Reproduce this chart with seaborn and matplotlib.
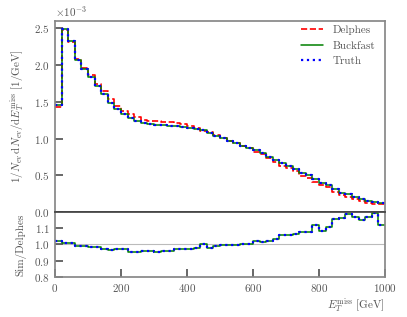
import numpy as np
import pandas as pd
import seaborn as sns
import matplotlib.pyplot as plt

# bin edges in GeV (50 bins of 20 GeV)
edges = np.arange(0, 1001, 20)

# normalised distributions, units of 1e-3 / GeV
truth = [1.46, 2.49, 2.33, 2.07, 1.94, 1.84, 1.72, 1.60, 1.49, 1.40,
         1.333, 1.274, 1.233, 1.206, 1.192, 1.183, 1.178, 1.174, 1.168, 1.16,
         1.145, 1.125, 1.11, 1.07, 1.03, 1.005, 0.97, 0.935, 0.90, 0.874,
         0.842, 0.80, 0.755, 0.71, 0.67, 0.63, 0.592, 0.53, 0.505, 0.45,
         0.40, 0.375, 0.32, 0.265, 0.24, 0.205, 0.175, 0.152, 0.133, 0.12]
buckfast = list(truth)

# Sim/Delphes ratio per bin
ratio = [1.023, 1.008, 1.006, 0.992, 0.990, 0.987, 0.984, 0.969, 0.965, 0.971,
         0.973, 0.955, 0.955, 0.961, 0.961, 0.955, 0.961, 0.959, 0.969, 0.973,
         0.973, 0.979, 1.004, 0.979, 0.988, 0.994, 0.998, 0.996, 1.004, 1.004,
         1.023, 1.016, 1.018, 1.035, 1.060, 1.060, 1.066, 1.078, 1.076, 1.117,
         1.082, 1.109, 1.158, 1.165, 1.188, 1.171, 1.148, 1.168, 1.196, 1.123]

delphes = [t / r for t, r in zip(truth, ratio)]


def steps(vals, scale=1.0):
    # pad last value so the final bin is drawn with steps-post
    v = np.asarray(vals) * scale
    return pd.DataFrame({"x": edges, "y": np.append(v, v[-1])})


sns.set_theme(style="ticks")
grey = "#555555"
plt.rcParams.update({
    "font.family": ["cmr10", "DejaVu Serif"],
    "mathtext.fontset": "cm",
    "axes.formatter.use_mathtext": True,
    "axes.unicode_minus": False,
    "font.size": 8,
    "text.color": grey,
    "axes.labelcolor": grey,
    "xtick.color": grey,
    "ytick.color": grey,
    "axes.edgecolor": "#888888",
    "xtick.direction": "in",
    "ytick.direction": "in",
})

fig = plt.figure(figsize=(4.07, 3.17), dpi=100)
ax = fig.add_axes([0.135, 0.331, 0.811, 0.603])
rax = fig.add_axes([0.135, 0.127, 0.811, 0.204], sharex=ax)

series = [("Delphes", delphes, "red", "--", 1.2),
          ("Buckfast", buckfast, "green", "-", 1.1),
          ("Truth", truth, "blue", ":", 1.6)]
for name, vals, col, ls, lw in series:
    sns.lineplot(data=steps(vals, 1e-3), x="x", y="y", ax=ax, color=col,
                 linestyle=ls, linewidth=lw, drawstyle="steps-post",
                 label=name, estimator=None)

ax.set_xlim(0, 1000)
ax.set_ylim(0, 2.6e-3)
ax.set_yticks([0, 0.5e-3, 1.0e-3, 1.5e-3, 2.0e-3, 2.5e-3])
ax.ticklabel_format(axis="y", style="sci", scilimits=(-3, -3))
ax.tick_params(axis="x", labelbottom=False, length=0)
ax.tick_params(axis="y", labelsize=8)
ax.yaxis.get_offset_text().set_fontsize(8)
ax.set_xlabel("")
ax.set_ylabel(r"$1/N_\mathrm{ev}\,\mathrm{d}N_\mathrm{ev}/\mathrm{d}E_T^\mathrm{miss}$ [1/GeV]",
              fontsize=8, labelpad=6)
ax.spines["bottom"].set_color("#444444")
ax.legend(frameon=False, loc="upper right", fontsize=8, handlelength=2.0,
          bbox_to_anchor=(1.0, 1.03))

for name, vals, col, ls, lw in series[1:]:
    sns.lineplot(data=steps(ratio), x="x", y="y", ax=rax, color=col,
                 linestyle=ls, linewidth=lw, drawstyle="steps-post",
                 estimator=None)
rax.axhline(1.0, color="#bbbbbb", linewidth=0.8, zorder=0)
rax.set_ylim(0.8, 1.2)
rax.set_yticks([0.8, 0.9, 1.0, 1.1])
rax.set_xticks([0, 200, 400, 600, 800, 1000])
rax.tick_params(labelsize=8)
rax.spines["top"].set_color("#444444")
rax.set_ylabel("Sim/Delphes", fontsize=8, labelpad=6)
rax.set_xlabel(r"$E_T^\mathrm{miss}$ [GeV]", fontsize=8, loc="right", labelpad=2)
fig.align_ylabels([ax, rax])

fig.savefig("out.png", dpi=100)
